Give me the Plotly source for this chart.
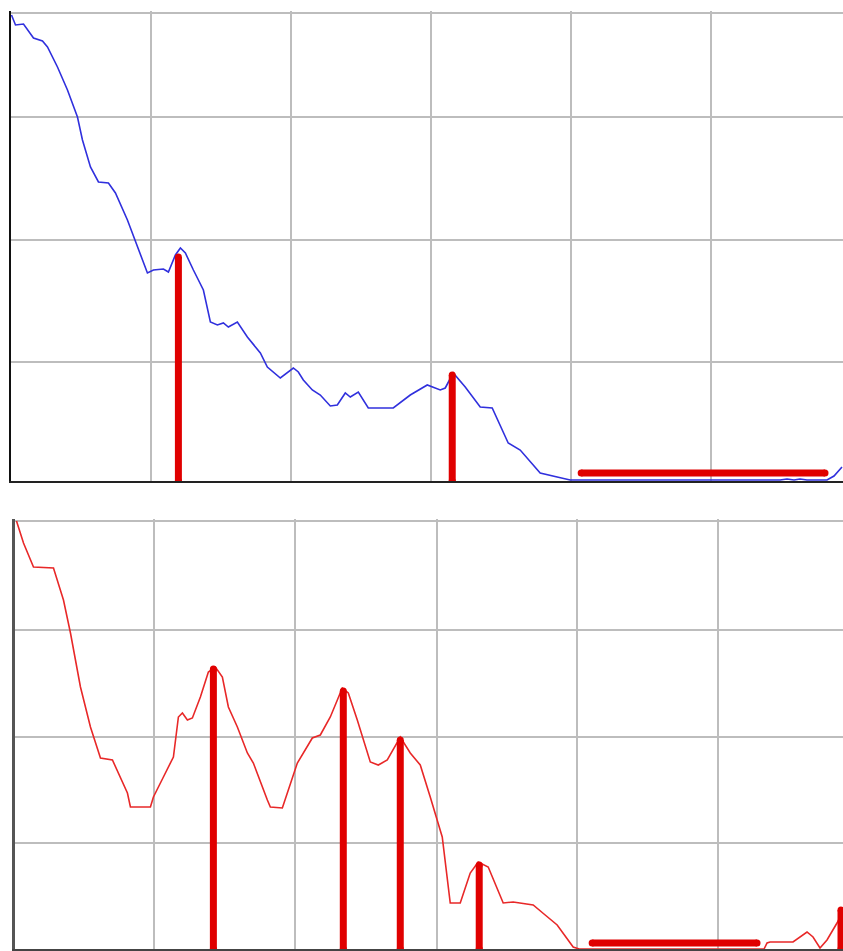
import plotly.graph_objects as go

# ---- Top panel (blue series) ----
top_x = [1, 5, 13, 23, 32, 37, 47, 57, 67, 72, 80, 88, 98, 105, 117, 127, 137, 143, 153, 158,
         165, 170, 175, 183, 193, 200, 207, 213, 218, 227, 237, 250, 257, 270, 283, 288, 293,
         302, 310, 320, 327, 335, 340, 348, 358, 383, 400, 417, 430, 435, 443, 455, 470, 482,
         498, 510, 530, 547, 560, 600, 700, 765, 770, 777, 784, 790, 797, 817, 824, 832]
top_y = [466, 456, 457, 443, 440, 434, 414, 391, 364, 341, 314, 299, 298, 288, 261, 234, 208,
         211, 212, 209, 226, 233, 228, 211, 191, 159, 156, 158, 154, 159, 144, 128, 114, 103,
         113, 109, 101, 91, 86, 75, 76, 88, 84, 89, 73, 73, 86, 96, 91, 93, 108, 94, 74, 73,
         38, 31, 8, 4, 1, 1, 1, 1, 1, 2, 1, 2, 1, 1, 5, 14]
top_peak_x = [168, 442]
top_peak_y = [224, 106]
top_flat_x = [571, 815]
top_flat_y = 8
top_xgrid = [141, 281, 421, 561, 701]
top_ygrid = [119, 241, 364, 468]

# ---- Bottom panel (red series) ----
bot_x = [2, 9, 19, 39, 49, 56, 66, 76, 86, 98, 113, 116, 136, 139, 149, 159, 164, 168, 173,
         178, 186, 194, 201, 208, 214, 223, 233, 239, 253, 256, 268, 283, 298, 306, 316, 328,
         334, 343, 356, 364, 373, 386, 396, 406, 416, 428, 436, 446, 456, 464, 474, 489, 499,
         519, 531, 543, 559, 565, 650, 750, 753, 756, 779, 793, 799, 806, 813, 823, 829]
bot_y = [428, 406, 382, 381, 349, 316, 262, 222, 191, 189, 156, 142, 142, 152, 172, 192, 232,
         236, 229, 231, 252, 277, 282, 272, 242, 222, 196, 186, 149, 142, 141, 186, 211, 214,
         232, 261, 256, 229, 187, 184, 189, 212, 196, 184, 152, 112, 46, 46, 76, 87, 82, 46,
         47, 44, 34, 24, 2, 0, 0, 0, 6, 7, 7, 17, 12, 1, 9, 26, 38]
bot_peak_x = [199, 329, 386, 465, 827]
bot_peak_y = [280, 258, 209, 84, 39]
bot_flat_x = [578, 743]
bot_flat_y = 6
bot_xgrid = [140, 281, 423, 563, 704]
bot_ygrid = [106, 212, 319, 428]

RED = "#e00000"
GRID = "#bdbdbd"


def stems(xs, ys):
    X, Y = [], []
    for xv, yv in zip(xs, ys):
        X += [xv, xv, None]
        Y += [0, yv, None]
    return X, Y


fig = go.Figure()

fig.add_trace(go.Scatter(x=top_x, y=top_y, mode="lines", line=dict(color="#3030dd", width=1.6),
                         xaxis="x", yaxis="y", hoverinfo="skip"))
sx, sy = stems(top_peak_x, top_peak_y)
fig.add_trace(go.Scatter(x=sx, y=sy, mode="lines+markers", line=dict(color=RED, width=7),
                         marker=dict(color=RED, size=7), xaxis="x", yaxis="y", hoverinfo="skip"))
fig.add_trace(go.Scatter(x=top_flat_x, y=[top_flat_y, top_flat_y], mode="lines+markers",
                         line=dict(color=RED, width=7), marker=dict(color=RED, size=7),
                         xaxis="x", yaxis="y", hoverinfo="skip"))

fig.add_trace(go.Scatter(x=bot_x, y=bot_y, mode="lines", line=dict(color="#e82828", width=1.6),
                         xaxis="x2", yaxis="y2", hoverinfo="skip"))
sx, sy = stems(bot_peak_x, bot_peak_y)
fig.add_trace(go.Scatter(x=sx, y=sy, mode="lines+markers", line=dict(color=RED, width=7),
                         marker=dict(color=RED, size=7), xaxis="x2", yaxis="y2", hoverinfo="skip"))
fig.add_trace(go.Scatter(x=bot_flat_x, y=[bot_flat_y, bot_flat_y], mode="lines+markers",
                         line=dict(color=RED, width=7), marker=dict(color=RED, size=7),
                         xaxis="x2", yaxis="y2", hoverinfo="skip"))

common = dict(showticklabels=False, ticks="", zeroline=False, gridcolor=GRID, gridwidth=2,
              tickmode="array", fixedrange=True)

fig.update_layout(
    width=843, height=951,
    margin=dict(l=0, r=0, t=0, b=0),
    paper_bgcolor="white", plot_bgcolor="white",
    showlegend=False,
    hovermode=False,
    xaxis=dict(domain=[10.5 / 843, 1], range=[0, 833], tickvals=top_xgrid,
               showline=True, linecolor="#222222", linewidth=2, anchor="y", **common),
    yaxis=dict(domain=[470 / 951, 940 / 951], range=[0, 470], tickvals=top_ygrid,
               showline=True, linecolor="#111111", linewidth=2, anchor="x", **common),
    xaxis2=dict(domain=[14.5 / 843, 1], range=[0, 829], tickvals=bot_xgrid,
                showline=True, linecolor="#444444", linewidth=2, anchor="y2", **common),
    yaxis2=dict(domain=[2 / 951, 432 / 951], range=[0, 430], tickvals=bot_ygrid,
                showline=True, linecolor="#555555", linewidth=2.5, anchor="x2", **common),
)

fig.write_html("out.html",
               config={"displayModeBar": False, "staticPlot": True},
               post_script="document.body.style.margin='0';document.body.style.overflow='hidden';")
